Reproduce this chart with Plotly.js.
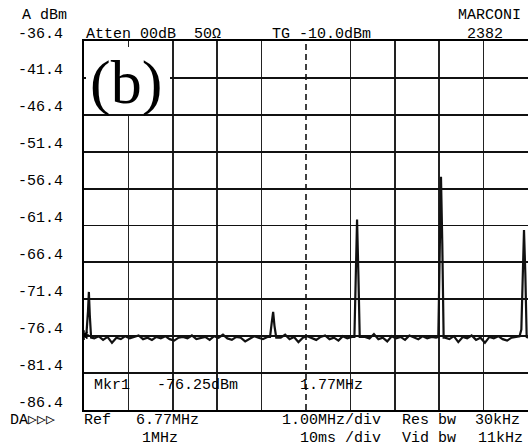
<!DOCTYPE html>
<html>
<head>
<meta charset="utf-8">
<script src="https://cdn.plot.ly/plotly-3.0.1.min.js"></script>
<style>html,body{margin:0;padding:0;background:#fff;}#chart{width:528px;height:448px;}</style>
</head>
<body>
<div id="chart"></div>
<script>
// ---- data ----
var freqStart = 1.77;   // MHz, left edge
var refFreq = 6.77;     // MHz, centre (Ref)
var freqStop = 11.77;   // MHz, right edge
var levelTop = -36.4;   // dBm
var levelBottom = -86.4;

var yTickVals = [-36.4, -41.4, -46.4, -51.4, -56.4, -61.4, -66.4, -71.4, -76.4, -81.4, -86.4];
var yTickText = ["-36.4", "-41.4", "-46.4", "-51.4", "-56.4", "-61.4", "-66.4", "-71.4", "-76.4", "-81.4", "-86.4"];
var xGridVals = [2.77, 3.77, 4.77, 5.77, 7.77, 8.77, 9.77, 10.77];

var markerFreq = 1.77;
var markerLevel = -76.25;

var traceFreq = [
  1.77, 1.82, 1.86, 1.88, 1.90, 1.93,
  2.0, 2.1, 2.2, 2.3, 2.4, 2.5, 2.6, 2.7, 2.8, 2.9,
  3.0, 3.1, 3.2, 3.3, 3.4, 3.5, 3.6, 3.7, 3.8, 3.9,
  4.0, 4.1, 4.2, 4.3, 4.4, 4.5, 4.6, 4.7, 4.8, 4.9,
  5.0, 5.1, 5.2, 5.3, 5.4, 5.5, 5.6, 5.7, 5.8, 5.9,
  5.96, 6.00, 6.03, 6.06, 6.10,
  6.2, 6.3, 6.4, 6.5, 6.6, 6.7, 6.8, 6.9, 7.0, 7.1, 7.2, 7.3, 7.4, 7.5, 7.6, 7.7, 7.8,
  7.86, 7.89, 7.92, 7.95, 7.98,
  8.1, 8.2, 8.3, 8.4, 8.5, 8.6, 8.7, 8.8, 8.9, 9.0, 9.1, 9.2, 9.3, 9.4, 9.5, 9.6, 9.7,
  9.75, 9.78, 9.81, 9.84, 9.87,
  9.9, 10.0, 10.1, 10.2, 10.3, 10.4, 10.5, 10.6, 10.7, 10.8, 10.9, 11.0, 11.1, 11.2, 11.3, 11.4, 11.5,
  11.58, 11.62, 11.65, 11.68, 11.71, 11.74, 11.77
];
var traceLevel = [
  -76.3, -76.5, -73.0, -70.4, -73.5, -76.6,
  -76.7, -76.4, -76.9, -76.5, -77.3, -76.6, -76.8, -76.4, -76.7, -76.5,
  -76.3, -76.8, -76.6, -76.9, -76.5, -76.7, -76.4, -76.8, -77.0, -76.6,
  -76.5, -76.7, -76.3, -76.8, -76.6, -76.5, -76.9, -76.4, -76.6, -76.2,
  -76.7, -76.9, -76.5, -76.6, -77.1, -76.7, -76.4, -76.6, -76.8, -76.5,
  -76.5, -74.5, -73.1, -75.0, -76.6,
  -76.6, -76.2, -76.8, -76.5, -77.2, -76.6, -76.4, -76.7, -76.9, -76.5, -76.3, -76.8, -76.6, -77.0, -76.4, -76.7, -76.5,
  -76.5, -70.0, -60.6, -68.0, -76.5,
  -76.5, -76.7, -76.1, -76.8, -76.6, -77.1, -76.4, -76.7, -76.5, -76.9, -76.3, -76.6, -76.8, -76.4, -76.7, -76.5, -76.6,
  -76.5, -68.0, -54.8, -64.0, -76.6,
  -76.6, -76.8, -76.4, -77.2, -76.5, -76.7, -76.3, -76.9, -76.6, -77.3, -76.5, -76.7, -76.4, -76.8, -77.0, -76.6, -76.5,
  -76.4, -75.5, -70.0, -62.0, -68.0, -76.5, -76.6
];

// ---- layout geometry ----
var W = 528, H = 448;
var L = 84, T = 41, B = 38, R = 0;
var plotW = W - L - R, plotH = H - T - B;
function px(x) { return (x - L) / plotW; }
function py(y) { return (H - B - y) / plotH; }

var mono = "Liberation Mono, DejaVu Sans Mono, monospace";
var fs = 15;
function txt(s, x, y, anchor) {
  return {text: s, xref: "paper", yref: "paper", x: px(x), y: py(y),
          xanchor: anchor || "left", yanchor: "middle", showarrow: false,
          font: {family: mono, size: fs, color: "#000"}};
}

var annotations = [];
for (var i = 0; i < yTickVals.length; i++) {
  annotations.push({text: yTickText[i], xref: "paper", yref: "y", x: px(65), y: yTickVals[i],
    xanchor: "right", yanchor: "middle", yshift: 7, showarrow: false,
    font: {family: mono, size: fs, color: "#000"}});
}
annotations.push(txt("A dBm", 20, 15));
annotations.push(txt("MARCONI", 456, 15));
annotations.push(txt("2382", 465, 34));
annotations.push(txt("Atten 00dB  50Ω", 84, 34));
annotations.push(txt("TG -10.0dBm", 270, 34));
annotations.push(txt("Mkr1", 92, 385));
annotations.push(txt("-76.25dBm", 155, 385));
annotations.push(txt("1.77MHz", 298, 385));
annotations.push(txt("DA▷▷▷", 8, 420));
annotations.push(txt("Ref", 82, 420));
annotations.push(txt("6.77MHz", 134, 420));
annotations.push(txt("1MHz", 140, 438));
annotations.push(txt("1.00MHz/div", 280, 420));
annotations.push(txt("Res bw", 400, 420));
annotations.push(txt("30kHz", 473, 420));
annotations.push(txt("10ms /div", 298, 438));
annotations.push(txt("Vid bw", 400, 438));
annotations.push(txt("11kHz", 476, 438));
annotations.push({text: "(b)", xref: "paper", yref: "paper", x: px(126), y: py(82),
  xanchor: "center", yanchor: "middle", showarrow: false, borderpad: 0,
  font: {family: "Liberation Serif, Times New Roman, serif", size: 62, color: "#000"}});

var data = [
  {x: traceFreq, y: traceLevel, type: "scatter", mode: "lines",
   line: {color: "#111", width: 2.2}, hoverinfo: "skip"},
  {x: [markerFreq], y: [markerLevel], type: "scatter", mode: "markers",
   marker: {symbol: "asterisk-open", size: 8, color: "#000", line: {width: 1.5, color: "#000"}}, hoverinfo: "skip"}
];

var layout = {
  width: W, height: H,
  margin: {l: L, r: R, t: T, b: B, pad: 0},
  paper_bgcolor: "#fff", plot_bgcolor: "#fff",
  showlegend: false,
  xaxis: {range: [freqStart, freqStop], tickmode: "array", tickvals: xGridVals,
          showticklabels: false, ticks: "", showgrid: true, gridcolor: "#222", gridwidth: 1.5,
          zeroline: false, showline: true, mirror: true, linecolor: "#000", linewidth: 2},
  yaxis: {range: [levelBottom, levelTop], tickmode: "array", tickvals: yTickVals,
          showticklabels: false, ticks: "", showgrid: true, gridcolor: "#111", gridwidth: 1.8,
          zeroline: false, showline: true, mirror: false, linecolor: "#000", linewidth: 2},
  shapes: [
    {type: "line", xref: "x", yref: "paper", x0: refFreq, x1: refFreq, y0: 0, y1: 1,
     line: {color: "#000", width: 1.5, dash: "6px,4px"}, layer: "below"},
    {type: "rect", xref: "paper", yref: "paper", x0: px(86), x1: px(170), y0: py(114), y1: py(47),
     fillcolor: "#fff", line: {width: 0}, layer: "above"}
  ],
  annotations: annotations
};

Plotly.newPlot("chart", data, layout, {staticPlot: true, displayModeBar: false});
</script>
</body>
</html>
